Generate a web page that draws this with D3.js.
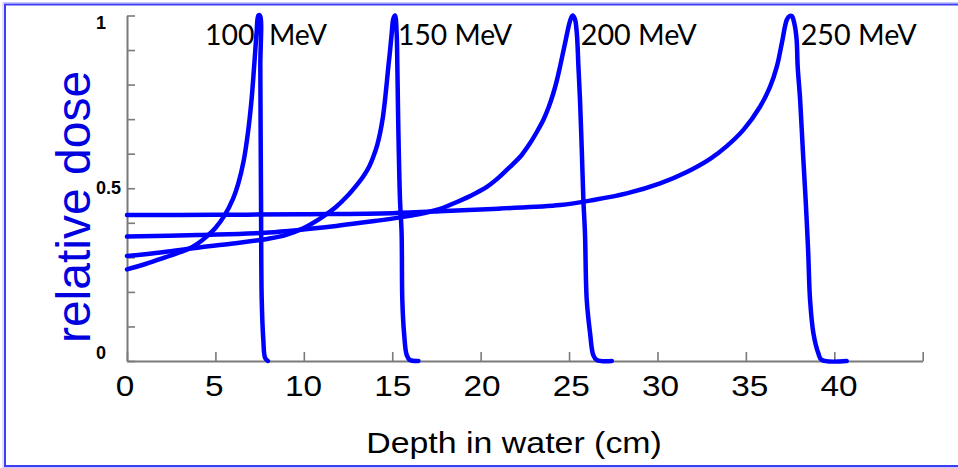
<!DOCTYPE html>
<html><head><meta charset="utf-8">
<script src="https://cdn.jsdelivr.net/npm/d3@7"></script>
<style>body{margin:0;background:#fff}svg{display:block}</style>
</head><body>
<svg id="c" width="958" height="468"></svg>
<script>
// ---- data ----
const energyLabels = ["100\u00a0\u00a0MeV", "150 MeV", "200 MeV", "250 MeV"];
const labelDepths = [4.41, 15.33, 25.66, 38.1];

const depth100 = [0, 1, 2, 3, 3.5, 4, 4.5, 5, 5.5, 6.0, 6.3, 6.6, 6.85, 7.05, 7.2, 7.33, 7.43, 7.52, 7.54, 7.56, 7.58, 7.62, 7.71, 7.81, 7.97];
const dose100  = [0.265, 0.28, 0.297, 0.315, 0.325, 0.34, 0.36, 0.385, 0.42, 0.47, 0.515, 0.58, 0.665, 0.76, 0.86, 0.95, 1.0, 1.0, 0.852, 0.640, 0.466, 0.177, 0.061, 0.009, 0];

const depth150 = [0, 2, 4, 6, 8, 9, 10, 11, 11.8, 12.43, 13, 13.37, 13.7, 13.93, 14.15, 14.31, 14.47, 14.59, 14.7, 14.78, 14.88, 14.97, 15.06, 15.16, 15.25, 15.29, 15.35, 15.44, 15.53, 15.57, 15.67, 15.82, 16.0, 16.48];
const dose150  = [0.304, 0.315, 0.328, 0.34, 0.354, 0.365, 0.385, 0.415, 0.445, 0.476, 0.51, 0.535, 0.563, 0.591, 0.625, 0.659, 0.705, 0.755, 0.81, 0.852, 0.90, 0.948, 0.99, 1.0, 0.948, 0.852, 0.659, 0.466, 0.370, 0.177, 0.080, 0.017, 0.003, 0];

const depth200 = [0, 4, 8, 12, 14, 16, 17.5, 18.46, 19.5, 20.35, 21, 21.66, 22.3, 22.79, 23.2, 23.55, 23.85, 24.11, 24.3, 24.49, 24.77, 25.06, 25.2, 25.33, 25.44, 25.53, 25.62, 25.72, 25.81, 25.90, 26.0, 26.19, 26.37, 26.57, 27.42];
const dose200  = [0.36, 0.365, 0.372, 0.392, 0.405, 0.42, 0.437, 0.456, 0.48, 0.504, 0.53, 0.562, 0.595, 0.630, 0.665, 0.698, 0.735, 0.775, 0.81, 0.852, 0.919, 0.985, 1.0, 0.99, 0.948, 0.852, 0.755, 0.611, 0.466, 0.370, 0.177, 0.080, 0.017, 0.003, 0];

const depth250 = [0, 5, 10, 15, 18, 21, 24.5, 26.38, 28.26, 30.15, 31.66, 32.98, 33.92, 34.86, 35.80, 36.37, 36.75, 37.03, 37.31, 37.46, 37.6, 37.75, 37.87, 37.93, 38.07, 38.22, 38.38, 38.52, 38.63, 38.82, 39.10, 39.29, 40.7];
const dose250  = [0.4226, 0.423, 0.425, 0.428, 0.434, 0.441, 0.4515, 0.466, 0.485, 0.514, 0.547, 0.585, 0.622, 0.669, 0.736, 0.794, 0.852, 0.919, 0.987, 0.998, 0.998, 0.975, 0.93, 0.852, 0.755, 0.611, 0.466, 0.32, 0.177, 0.08, 0.022, 0.003, 0];

const xTicks = [0, 5, 10, 15, 20, 25, 30, 35, 40, 45];
const xTickLabels = [0, 5, 10, 15, 20, 25, 30, 35, 40];
const yTicks = [0, 0.1, 0.2, 0.3, 0.4, 0.5, 0.6, 0.7, 0.8, 0.9, 1.0];
const yTickLabels = [0, 0.5, 1];

// ---- layout ----
const svg = d3.select("#c");
const x = d3.scaleLinear().domain([0, 45]).range([127, 922.7]);
const y = d3.scaleLinear().domain([0, 1]).range([361, 15.5]);
// label placement scale (labels in the source sit slightly off the ticks)
const xl = d3.scaleLinear().domain([0, 40]).range([125, 839]);

// frame
svg.append("rect").attr("x", 3).attr("y", 2.5).attr("width", 1000).attr("height", 465)
  .attr("fill", "none").attr("stroke", "#c8c8ff").attr("stroke-width", 1);
svg.append("rect").attr("x", 5).attr("y", 4.5).attr("width", 1000).attr("height", 461.5)
  .attr("fill", "none").attr("stroke", "#3d3df2").attr("stroke-width", 2);

const axisColor = "#7a7a7a";
const gx = svg.append("g").attr("transform", `translate(0,${y(0)})`)
  .call(d3.axisBottom(x).tickValues(xTicks).tickSizeInner(-9).tickSizeOuter(0).tickFormat(""));
const gy = svg.append("g").attr("transform", `translate(${x(0)},0)`)
  .call(d3.axisLeft(y).tickValues(yTicks).tickSizeInner(-8).tickSizeOuter(0).tickFormat(""));
[gx, gy].forEach(g => {
  g.selectAll("path.domain").attr("stroke", axisColor).attr("stroke-width", 2);
  g.selectAll(".tick line").attr("stroke", axisColor).attr("stroke-width", 1.6);
});

// x tick labels
svg.append("g").selectAll("text").data(xTickLabels).join("text")
  .attr("transform", d => `translate(${xl(d)},396) scale(1.15,1)`)
  .attr("text-anchor", "middle")
  .attr("font-family", "'Liberation Sans', Arial, sans-serif")
  .attr("font-size", 29).attr("fill", "#000")
  .text(d => d);

// y tick labels
svg.append("g").selectAll("text").data(yTickLabels).join("text")
  .attr("x", 96).attr("y", d => y(d) - 2 + 15 * d)
  .attr("font-family", "'Liberation Sans', Arial, sans-serif")
  .attr("font-weight", "bold").attr("font-size", 18).attr("fill", "#000")
  .text(d => d);

// axis titles
svg.append("text")
  .attr("transform", "translate(514,453) scale(1.13,1)")
  .attr("text-anchor", "middle")
  .attr("font-family", "'Liberation Sans', Arial, sans-serif")
  .attr("font-size", 30).attr("fill", "#000")
  .text("Depth in water (cm)");

svg.append("text")
  .attr("transform", "translate(90,207) rotate(-90)")
  .attr("text-anchor", "middle")
  .attr("font-family", "'Liberation Sans', Arial, sans-serif")
  .attr("font-size", 48).attr("fill", "#0000e0")
  .text("relative dose");

// energy labels (drawn under the curves)
const labelWidths = [122, 114, 116, 116];
svg.append("g").selectAll("text").data(energyLabels).join("text")
  .attr("x", (d, i) => x(labelDepths[i])).attr("y", 45)
  .attr("font-family", "Lato, 'Open Sans', sans-serif")
  .attr("font-size", 28).attr("fill", "#000")
  .attr("textLength", (d, i) => labelWidths[i]).attr("lengthAdjust", "spacingAndGlyphs")
  .text(d => d);

// curves
const series = [
  [depth100, dose100], [depth150, dose150], [depth200, dose200], [depth250, dose250]
];
const line = d3.line().x(d => x(d[0])).y(d => y(d[1])).curve(d3.curveCatmullRom.alpha(0.5));
svg.append("g").selectAll("path").data(series).join("path")
  .attr("d", s => line(s[0].map((v, i) => [v, s[1][i]])))
  .attr("fill", "none").attr("stroke", "#0000ff").attr("stroke-width", 4.5)
  .attr("stroke-linejoin", "round").attr("stroke-linecap", "round");
</script>
</body></html>
